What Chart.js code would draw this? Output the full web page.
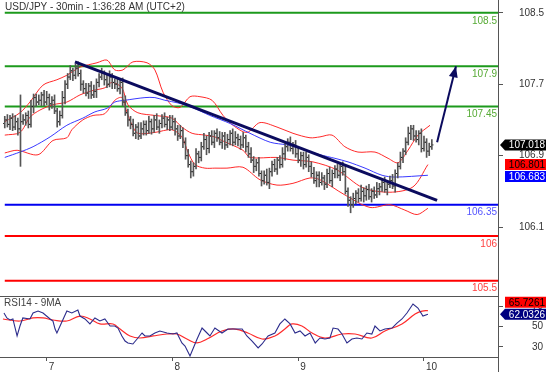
<!DOCTYPE html>
<html>
<head>
<meta charset="utf-8">
<script src="https://cdn.jsdelivr.net/npm/chart.js@4.4.0/dist/chart.umd.min.js"></script>
<style>
  body { margin: 0; background: #fff; }
  canvas { display: block; }
</style>
</head>
<body>
<canvas id="chart" width="554" height="372"></canvas>
<script>
// x = bar index, 30 min bars, 48 per day; index 16 = start of day 7
const dayTicks = [16, 64, 112, 160];
const dayLabels = ['7', '8', '9', '10'];

const opens = [
  107.26,107.30,107.25,107.32,107.22,107.28,107.20,107.28,107.30,107.35,
  107.25,107.45,107.55,107.50,107.52,107.58,107.50,107.55,107.48,107.52,
  107.40,107.28,107.35,107.55,107.70,107.78,107.85,107.80,107.88,107.82,
  107.70,107.65,107.60,107.68,107.58,107.62,107.72,107.78,107.82,107.75,
  107.70,107.78,107.72,107.70,107.65,107.72,107.50,107.38,107.30,107.25,
  107.15,107.22,107.12,107.20,107.25,107.18,107.28,107.20,107.30,107.22,
  107.26,107.32,107.25,107.30,107.22,107.28,107.20,107.12,107.18,107.05,
  106.90,106.80,106.72,106.78,106.92,106.88,107.00,107.08,106.98,107.12,
  107.05,107.15,107.10,107.05,107.12,107.02,107.08,107.15,107.05,107.10,
  107.08,107.02,107.10,107.00,106.92,106.85,106.78,106.82,106.70,106.62,
  106.68,106.60,106.72,106.80,106.75,106.85,106.80,106.92,107.00,107.05,
  106.98,107.02,106.92,106.85,106.90,106.80,106.88,106.78,106.70,106.62,
  106.68,106.60,106.65,106.58,106.70,106.62,106.70,106.75,106.68,106.78,
  106.72,106.50,106.40,106.35,106.42,106.48,106.42,106.50,106.45,106.52,
  106.44,106.50,106.46,106.53,106.55,106.60,106.52,106.58,106.62,106.56,
  106.70,106.78,106.88,106.95,107.05,107.15,107.20,107.12,107.08,107.15,
  106.98,107.05,106.95,107.00
];
const highs = [
  107.34,107.36,107.35,107.37,107.35,107.32,107.58,107.36,107.38,107.40,
  107.52,107.59,107.59,107.58,107.61,107.63,107.62,107.59,107.56,107.58,
  107.43,107.40,107.62,107.74,107.82,107.91,107.88,107.93,107.95,107.86,
  107.74,107.71,107.71,107.73,107.69,107.76,107.82,107.88,107.85,107.80,
  107.85,107.82,107.76,107.76,107.75,107.77,107.57,107.42,107.34,107.31,
  107.25,107.27,107.27,107.29,107.29,107.34,107.31,107.35,107.37,107.30,
  107.36,107.38,107.33,107.35,107.35,107.32,107.24,107.24,107.21,107.10,
  106.97,106.84,106.82,106.98,106.95,107.05,107.15,107.12,107.16,107.18,
  107.18,107.20,107.17,107.16,107.16,107.14,107.18,107.20,107.17,107.14,
  107.12,107.16,107.13,107.05,106.99,106.89,106.86,106.88,106.73,106.73,
  106.75,106.76,106.84,106.86,106.88,106.90,106.99,107.04,107.09,107.11,
  107.05,107.07,106.99,106.94,106.94,106.94,106.91,106.83,106.77,106.72,
  106.72,106.71,106.68,106.75,106.77,106.74,106.79,106.81,106.81,106.83,
  106.79,106.54,106.44,106.48,106.51,106.53,106.57,106.54,106.56,106.58,
  106.53,106.55,106.60,106.59,106.64,106.66,106.61,106.67,106.69,106.74,
  106.82,106.94,106.98,107.10,107.22,107.24,107.24,107.18,107.18,107.20,
  107.12,107.09,107.04,107.08
];
const lows = [
  107.21,107.22,107.19,107.18,107.19,107.13,106.78,107.25,107.24,107.21,
  107.22,107.38,107.45,107.47,107.46,107.46,107.47,107.41,107.43,107.37,
  107.22,107.24,107.32,107.48,107.65,107.75,107.74,107.76,107.79,107.63,
  107.60,107.57,107.54,107.54,107.55,107.55,107.67,107.75,107.69,107.66,
  107.67,107.65,107.65,107.62,107.59,107.46,107.35,107.23,107.20,107.12,
  107.09,107.08,107.09,107.13,107.13,107.15,107.14,107.16,107.19,107.15,
  107.21,107.22,107.19,107.18,107.19,107.13,107.07,107.09,106.99,106.86,
  106.77,106.65,106.67,106.75,106.82,106.84,106.97,106.91,106.93,107.02,
  106.99,107.06,107.02,106.98,106.97,106.99,107.02,107.01,107.02,107.01,
  106.97,106.99,106.94,106.88,106.82,106.71,106.73,106.67,106.56,106.58,
  106.57,106.53,106.67,106.72,106.69,106.76,106.77,106.85,106.95,106.95,
  106.92,106.88,106.82,106.78,106.75,106.77,106.72,106.66,106.59,106.55,
  106.55,106.57,106.52,106.54,106.59,106.55,106.65,106.65,106.62,106.68,
  106.47,106.33,106.26,106.32,106.36,106.38,106.39,106.38,106.40,106.41,
  106.38,106.42,106.43,106.46,106.50,106.49,106.46,106.54,106.53,106.49,
  106.65,106.75,106.82,106.91,107.02,107.08,107.07,107.05,107.02,106.94,
  106.95,106.88,106.90,106.97
];
const closes = [
  107.30,107.25,107.32,107.22,107.28,107.20,107.28,107.30,107.35,107.25,
  107.45,107.55,107.50,107.52,107.58,107.50,107.55,107.48,107.52,107.40,
  107.28,107.35,107.55,107.70,107.78,107.85,107.80,107.88,107.82,107.70,
  107.65,107.60,107.68,107.58,107.62,107.72,107.78,107.82,107.75,107.70,
  107.78,107.72,107.70,107.65,107.72,107.50,107.38,107.30,107.25,107.15,
  107.22,107.12,107.20,107.25,107.18,107.28,107.20,107.30,107.22,107.26,
  107.32,107.25,107.30,107.22,107.28,107.20,107.12,107.18,107.05,106.90,
  106.80,106.72,106.78,106.92,106.88,107.00,107.08,106.98,107.12,107.05,
  107.15,107.10,107.05,107.12,107.02,107.08,107.15,107.05,107.10,107.08,
  107.02,107.10,107.00,106.92,106.85,106.78,106.82,106.70,106.62,106.68,
  106.60,106.72,106.80,106.75,106.85,106.80,106.92,107.00,107.05,106.98,
  107.02,106.92,106.85,106.90,106.80,106.88,106.78,106.70,106.62,106.68,
  106.60,106.65,106.58,106.70,106.62,106.70,106.75,106.68,106.78,106.72,
  106.50,106.40,106.35,106.42,106.48,106.42,106.50,106.45,106.52,106.44,
  106.50,106.46,106.53,106.55,106.60,106.52,106.58,106.62,106.56,106.70,
  106.78,106.88,106.95,107.05,107.15,107.20,107.12,107.08,107.15,106.98,
  107.05,106.95,107.00,107.02
];

// Bollinger bands and moving average, read at sample bars
const bbUpX = [0,5.8,9.6,14.6,19.9,23.7,28.7,35.2,39,42,45.1,48.9,54.3,57.3,60.4,63.8,66.9,70.7,74.5,79.1,83.3,87.1,92.4,97.4,103.9,110,116.5,120.3,124.9,129.8,134.8,141.3,146.3,150.1,153.9,157.7,162.3];
const bbUpValues = [107.28,107.38,107.50,107.69,107.75,107.80,107.89,107.94,107.97,107.86,107.86,107.95,107.94,107.86,107.61,107.46,107.44,107.56,107.56,107.52,107.35,107.24,107.16,107.27,107.22,107.15,107.10,107.11,107.13,107.00,106.94,106.94,106.87,106.82,106.96,107.13,107.24];
const bbMidX = [0,5.8,9.6,13.4,18.4,23.7,28.7,33.7,38.2,40.9,44.7,47,50.8,57.3,63.8,67.6,71.5,76.4,80.2,82.1,90.9,93.6,103.9,110,117.6,126.8,136.7,147,155.8,161.5];
const bbMidValues = [107.13,107.16,107.33,107.41,107.47,107.50,107.58,107.63,107.66,107.72,107.66,107.47,107.38,107.35,107.32,107.22,107.15,107.13,107.11,107.08,106.96,106.88,106.88,106.85,106.83,106.74,106.54,106.49,106.55,106.80];
const bbLowX = [0,4.7,12.7,18.4,23.7,25.6,29.8,33.7,38.2,42,44.7,46.5,48.6,50.8,57.3,63.8,67.6,69.9,72.6,76.4,80.2,84.8,90.9,97.4,103.9,110,116.5,120.3,129.8,139.4,147,152.7,157.4,161.5];
const bbLowValues = [106.93,106.96,106.91,107.07,107.10,107.19,107.30,107.35,107.37,107.52,107.55,107.40,107.24,107.15,107.16,107.19,107.11,106.94,106.80,106.76,106.76,106.76,106.77,106.63,106.57,106.59,106.65,106.63,106.46,106.32,106.35,106.29,106.24,106.31];
const maX = [0,5.8,10.8,17.3,23.7,29.8,34.4,39,42,45.9,53.5,57.3,61.1,66.1,71.5,78.3,86,93.6,101.3,107.7,111.5,120.3,126,131,137.5,144,148.9,161.5];
const maValues = [106.88,106.94,107.00,107.11,107.24,107.32,107.39,107.43,107.50,107.52,107.55,107.55,107.52,107.49,107.44,107.35,107.26,107.15,107.05,107.02,106.99,106.91,106.87,106.83,106.76,106.68,106.66,106.68];

// RSI14 and its 9 period MA
const rsiX = [-0.3,0.8,2,3.1,4.7,5.8,6.9,9.6,10.8,12.7,14.6,17.3,18.4,19.2,19.9,21.1,23.7,25.6,27.9,28.7,30.6,32.5,34.4,36.3,38.2,40.2,42,43.2,44.7,45.9,47,48.9,50.5,52.4,53.5,55.4,57.3,59.2,61.9,64.2,65.7,67.6,68.8,70.7,73.4,75.3,77.2,78.3,80.2,82.9,85.2,87.9,90.6,92.4,94.4,96.7,98.2,100.5,103.1,105,106.9,108.9,110.8,112.7,114.6,116.5,118.5,120.3,122.2,124.1,125.3,127.2,128.7,130.6,132.5,134.4,136.3,138.2,140.1,141.3,143.2,145.1,147.8,149.7,151.6,153.5,155.8,157.7,159.6,161.5];
const rsiValues = [63.3,58.4,56.4,57.4,40.7,50.5,58.4,57.4,63.3,65.2,63.3,57.4,55.4,47.5,43.6,50.5,65.2,63.3,66.2,60.3,57.4,52.5,58.4,55.4,57.4,50.5,50.5,48.5,40.7,35.7,33.8,32.8,37.7,43.6,40.7,40.7,43.6,45.6,43.6,42.6,43.6,33.8,30.8,21.0,37.7,48.5,43.6,40.7,48.5,43.6,47.5,47.5,47.5,40.7,35.7,28.9,32.8,40.7,43.6,52.5,57.4,52.5,43.6,45.6,40.7,43.6,33.8,38.7,37.7,38.7,48.5,47.5,42.6,33.8,37.7,38.7,37.7,43.6,42.6,50.5,45.6,47.5,48.5,53.4,57.4,63.3,72.1,68.2,60.3,62.0];
const rsiMaX = [-0.7,5.8,10.8,14.6,18.4,23.7,28.7,32.5,36.3,41.3,44,47.8,51.6,56.6,61.9,65.7,69.5,73.4,77.2,82.9,87.9,92.8,98.2,103.1,106.9,109.6,113.4,117.3,122.2,128.7,133.7,140.1,145.1,151.6,156.6,159.3,161.5];
const rsiMaValues = [57.4,55.4,58.4,58.4,56.4,55.4,60.3,57.4,52.5,52.5,47.5,40.7,38.7,40.7,42.6,42.6,37.7,33.8,37.7,45.6,47.5,43.6,37.7,40.7,47.5,52.5,50.5,43.6,38.7,42.6,42.6,38.7,45.6,52.5,62.3,65.2,65.7];

// horizontal levels
const levelValues = [108.5, 107.9, 107.45, 106.35, 106, 105.5];
const levelLabels = ['108.5', '107.9', '107.45', '106.35', '106', '105.5'];
const levelKinds = ['target', 'target', 'target', 'pivot', 'support', 'support'];

// trend line and projected move
const trendX = [26.8, 165];
const trendY = [107.95, 106.40];
const arrowX = [165, 172.2];
const arrowY = [107.05, 107.90];

// axis ticks and last readings
const priceTicks = [108.5, 107.7, 106.9, 106.1];
const rsiTicks = [30, 50, 70];
const lastPrice = 107.018;
const lastBand = 106.801;
const lastMa = 106.683;
const lastRsiMa = 65.7261;
const lastRsi = 62.0326;

const FONT = '"Liberation Sans", Arial, sans-serif';
Chart.defaults.font.family = FONT;
Chart.defaults.font.size = 10;
Chart.defaults.color = '#333';

const levelStyle = {
  target:  { line: '#1c9a1c', text: '#55aa33' },
  pivot:   { line: '#0000f0', text: '#5555ff' },
  support: { line: '#ff0000', text: '#ff4040' }
};

const xMin = -1.82, xMax = 188.25;

function pairs(xs, ys) {
  return xs.map((x, k) => ({ x: x, y: ys[k] }));
}

const datasets = [];

levelValues.forEach((v, k) => {
  datasets.push({
    type: 'line', data: [{ x: 0, y: v }, { x: xMax, y: v }],
    borderColor: levelStyle[levelKinds[k]].line, borderWidth: 2,
    yAxisID: 'y', order: 20
  });
});

datasets.push({
  type: 'line', data: pairs(bbUpX, bbUpValues), borderColor: '#ff2a2a',
  borderWidth: 1, tension: 0.3, yAxisID: 'y', order: 12
});
datasets.push({
  type: 'line', data: pairs(bbMidX, bbMidValues), borderColor: '#ff2a2a',
  borderWidth: 1, tension: 0.3, yAxisID: 'y', order: 12
});
datasets.push({
  type: 'line', data: pairs(bbLowX, bbLowValues), borderColor: '#ff2a2a',
  borderWidth: 1, tension: 0.3, yAxisID: 'y', order: 12
});
datasets.push({
  type: 'line', data: pairs(maX, maValues), borderColor: '#3a3aff',
  borderWidth: 1, tension: 0.3, yAxisID: 'y', order: 11
});

datasets.push({
  type: 'bar',
  data: highs.map((h, i) => ({ x: i, y: [lows[i], h] })),
  backgroundColor: '#555', barThickness: 1, grouped: false,
  yAxisID: 'y', order: 8
});
datasets.push({
  type: 'scatter', data: opens.map((o, i) => ({ x: i, y: o })),
  pointStyle: 'dash', pointRadius: 1.6, pointRotation: 180,
  borderColor: '#111', pointBorderWidth: 1, yAxisID: 'y', order: 8
});
datasets.push({
  type: 'scatter', data: closes.map((c, i) => ({ x: i, y: c })),
  pointStyle: 'dash', pointRadius: 1.6, pointRotation: 0,
  borderColor: '#111', pointBorderWidth: 1, yAxisID: 'y', order: 8
});

datasets.push({
  type: 'line', data: pairs(trendX, trendY), borderColor: '#0b0b5e',
  borderWidth: 3, yAxisID: 'y', order: 2
});
datasets.push({
  type: 'line', data: pairs(arrowX, arrowY), borderColor: '#0b0b5e',
  borderWidth: 2, yAxisID: 'y', order: 2
});

datasets.push({
  type: 'line', data: pairs(rsiMaX, rsiMaValues), borderColor: '#ff2a2a',
  borderWidth: 1.2, tension: 0.4, yAxisID: 'rsi', order: 4
});
datasets.push({
  type: 'line', data: pairs(rsiX, rsiValues), borderColor: '#2c2c8c',
  borderWidth: 1.1, yAxisID: 'rsi', order: 3
});

function drawTag(ctx, yc, text, bg, fg, pointer) {
  const x0 = 505, x1 = 546, h = 11;
  ctx.fillStyle = bg;
  ctx.beginPath();
  if (pointer) {
    ctx.moveTo(500, yc);
    ctx.lineTo(x0, yc - h / 2);
  } else {
    ctx.moveTo(x0, yc - h / 2);
  }
  ctx.lineTo(x1, yc - h / 2);
  ctx.lineTo(x1, yc + h / 2);
  ctx.lineTo(x0, yc + h / 2);
  ctx.closePath();
  ctx.fill();
  ctx.fillStyle = fg;
  ctx.font = '10px ' + FONT;
  ctx.textAlign = 'right';
  ctx.textBaseline = 'middle';
  ctx.fillText(text, 545, yc + 0.5);
}

function noEdgePadding(s) {
  s.paddingTop = 0;
  s.paddingBottom = 0;
  s.paddingLeft = 0;
  s.paddingRight = 0;
}

const overlay = {
  id: 'overlay',
  beforeDraw(chart) {
    const ctx = chart.ctx;
    ctx.save();
    ctx.fillStyle = '#fff';
    ctx.fillRect(0, 0, chart.width, chart.height);
    ctx.restore();
  },
  afterDatasetsDraw(chart) {
    const ctx = chart.ctx, y = chart.scales.y, x = chart.scales.x;
    const right = chart.chartArea.right;
    ctx.save();
    ctx.font = '10px ' + FONT;
    ctx.textAlign = 'right';
    ctx.textBaseline = 'top';
    levelValues.forEach((v, k) => {
      ctx.fillStyle = levelStyle[levelKinds[k]].text;
      ctx.fillText(levelLabels[k], right - 1, y.getPixelForValue(v) + 3);
    });
    // arrow head
    const ax0 = x.getPixelForValue(arrowX[0]), ay0 = y.getPixelForValue(arrowY[0]);
    const ax1 = x.getPixelForValue(arrowX[1]), ay1 = y.getPixelForValue(arrowY[1]);
    const ang = Math.atan2(ay1 - ay0, ax1 - ax0);
    const len = 11, half = 4.5;
    ctx.fillStyle = '#0b0b5e';
    ctx.beginPath();
    ctx.moveTo(ax1, ay1);
    ctx.lineTo(ax1 - len * Math.cos(ang) + half * Math.sin(ang), ay1 - len * Math.sin(ang) - half * Math.cos(ang));
    ctx.lineTo(ax1 - len * Math.cos(ang) - half * Math.sin(ang), ay1 - len * Math.sin(ang) + half * Math.cos(ang));
    ctx.closePath();
    ctx.fill();
    ctx.restore();
  },
  afterDraw(chart) {
    const ctx = chart.ctx, y = chart.scales.y, r = chart.scales.rsi;
    const area = chart.chartArea;
    ctx.save();
    ctx.strokeStyle = '#555';
    ctx.lineWidth = 1;
    ctx.beginPath();
    ctx.moveTo(0, Math.round(y.bottom) + 0.5);
    ctx.lineTo(area.right, Math.round(y.bottom) + 0.5);
    ctx.moveTo(Math.round(area.right) + 0.5, 0);
    ctx.lineTo(Math.round(area.right) + 0.5, chart.height);
    ctx.stroke();

    ctx.font = '10px ' + FONT;
    ctx.textAlign = 'left';
    ctx.textBaseline = 'top';
    ctx.fillStyle = '#333';
    ctx.fillText('USD/JPY - 30min - 1:36:28 AM (UTC+2)', 5, 2);
    ctx.fillStyle = '#444';
    ctx.fillText('RSI14 - 9MA', 4, r.top + 2);

    // price readouts, the last price keeps its place
    const yp = y.getPixelForValue(lastPrice);
    let yb = y.getPixelForValue(lastBand);
    if (yb - 5.5 < yp + 5.5 + 1) yb = yp + 12;
    let ym = y.getPixelForValue(lastMa);
    if (ym - 5.5 < yb + 5.5 + 1) ym = yb + 12;
    drawTag(ctx, yb, lastBand.toFixed(3), '#ff0000', '#000', false);
    drawTag(ctx, ym, lastMa.toFixed(3), '#0000ff', '#fff', false);
    drawTag(ctx, yp, lastPrice.toFixed(3), '#000', '#fff', true);

    const yr = r.getPixelForValue(lastRsi);
    let yrm = r.getPixelForValue(lastRsiMa);
    if (yrm + 5.5 > yr - 5.5 - 1) yrm = yr - 12;
    drawTag(ctx, yrm, lastRsiMa.toFixed(4), '#ff0000', '#000', false);
    drawTag(ctx, yr, lastRsi.toFixed(4), '#000080', '#fff', true);
    ctx.restore();
  }
};

new Chart(document.getElementById('chart'), {
  type: 'line',
  data: { datasets: datasets },
  options: {
    responsive: false,
    animation: false,
    layout: { padding: 0, autoPadding: false },
    plugins: { legend: { display: false }, tooltip: { enabled: false } },
    elements: { point: { radius: 0 } },
    scales: {
      x: {
        type: 'linear', position: 'bottom', min: xMin, max: xMax, offset: false,
        afterBuildTicks: s => { s.ticks = dayTicks.map(v => ({ value: v })); },
        afterFit: s => { s.height = 15; noEdgePadding(s); },
        ticks: {
          callback: (v) => dayLabels[dayTicks.indexOf(v)],
          align: 'start', labelOffset: 2, padding: 0,
          maxRotation: 0, autoSkip: false, color: '#333'
        },
        grid: { offset: false, drawOnChartArea: false, tickLength: 4, color: '#555' },
        border: { color: '#555' }
      },
      y: {
        type: 'linear', axis: 'y', position: 'right', stack: 'panes', stackWeight: 296,
        min: 105.328, max: 108.643,
        afterBuildTicks: s => { s.ticks = priceTicks.map(v => ({ value: v })); },
        afterFit: s => { s.width = 56; noEdgePadding(s); },
        ticks: { padding: 16, color: '#333', callback: v => String(v) },
        grid: { drawOnChartArea: false, tickLength: 5, color: '#555' },
        border: { color: '#555' }
      },
      rsi: {
        type: 'linear', axis: 'y', position: 'right', stack: 'panes', stackWeight: 61,
        min: 20, max: 80,
        afterBuildTicks: s => { s.ticks = rsiTicks.map(v => ({ value: v })); },
        afterFit: s => { s.width = 56; noEdgePadding(s); },
        ticks: { padding: 29, color: '#333', callback: v => String(v) },
        grid: { drawOnChartArea: false, tickLength: 5, color: '#555' },
        border: { color: '#555' }
      }
    }
  },
  plugins: [overlay]
});
</script>
</body>
</html>
